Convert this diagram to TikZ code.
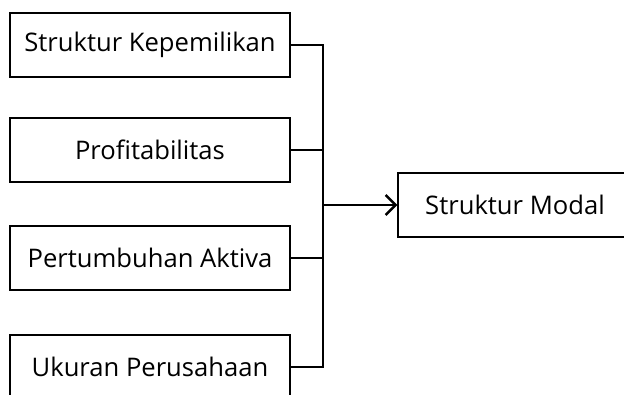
\documentclass[tikz,border=0pt]{standalone}
\usepackage{fontspec}
\setmainfont{Open Sans}
\usetikzlibrary{arrows.meta}
\begin{document}
\begin{tikzpicture}
	[x=1pt,y=-1pt,
	 var/.style={draw,line width=1.3pt,minimum width=280pt,minimum height=64pt,inner sep=0pt,
	   font=\fontsize{25.6}{30}\selectfont},
	 line/.style={line width=1.3pt},>={Straight Barb[length=10pt,width=20pt]}]
    \useasboundingbox (0,0) rectangle (624,394);
    \clip (0,0) rectangle (624,394);
    \node[var] (kep) at (150,45) {Struktur Kepemilikan};
    \node[var] (pro) at (150,150) {Profitabilitas};
    \node[var] (akt) at (150,258) {Pertumbuhan Aktiva};
    \node[var] (uk) at (150,367) {Ukuran Perusahaan};
    \node[var,minimum width=234pt] (mod) at (515,205) {Struktur Modal};
    \coordinate (top) at (323,45);
    \coordinate (bot) at (323,367);
    \coordinate (J) at (323,205);
    \draw [line] (kep.east) -- (top) -- (bot) -- (uk.east);
    \draw [line] (pro.east) -- (pro.east -| top);
    \draw [line] (akt.east) -- (akt.east -| top);
    \draw [line width=2.4pt,->] (J) -- (mod.west);
\end{tikzpicture}
\end{document}
